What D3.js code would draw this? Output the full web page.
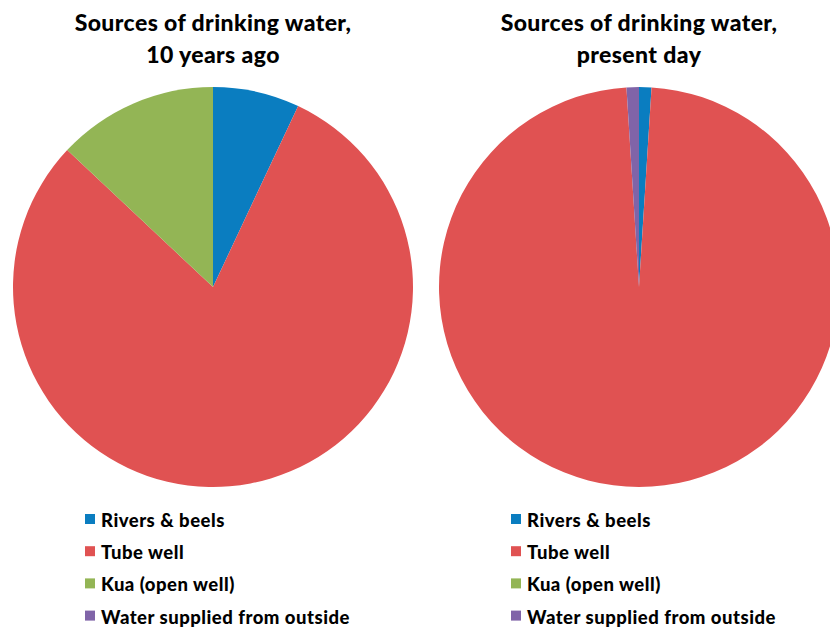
<!DOCTYPE html>
<html>
<head>
<meta charset="utf-8">
<script src="https://cdn.jsdelivr.net/npm/d3@7"></script>
<style>
  body { margin: 0; background: #fff; }
  text { font-family: Lato, "Open Sans", sans-serif; font-weight: 900; fill: #000; }
</style>
</head>
<body>
<svg id="viz"></svg>
<script>
// sources of drinking water, two pies side by side
var width = 830;
var height = 629;

var categories = ["Rivers & beels", "Tube well", "Kua (open well)", "Water supplied from outside"];
var colors = ["#0a7dc0", "#e05252", "#93b555", "#8064a8"];

var tenYearsAgo = [7, 80, 13, 0];
var presentDay = [1, 98, 0, 1];

var titles = [
	["Sources of drinking water,", "10 years ago"],
	["Sources of drinking water,", "present day"]
];

var svg = d3.select("#viz")
	.attr("width", width)
	.attr("height", height)
	.style("display", "block")

var radius = 200;
var centers = [{x: 213, y: 287}, {x: 639, y: 287}];

var pie = d3.pie().sort(null).value(d => d);
var arc = d3.arc().innerRadius(0).outerRadius(radius);

var color = d3.scaleOrdinal().domain(categories).range(colors);

function drawPie(values, i) {
	let c = centers[i];
	let g = svg.append("g")
		.attr("transform", "translate(" + c.x + "," + c.y + ")");

	g.selectAll(".slice")
		.data(pie(values))
		.join("path")
		.attr("class", "slice")
		.attr("d", arc)
		.style("fill", (d, j) => color(categories[j]))

	// title, two lines
	svg.append("g").selectAll(".title")
		.data(titles[i])
		.join("text")
		.attr("class", "title")
		.attr("x", c.x)
		.attr("y", (d, j) => 31 + j * 32)
		.attr("text-anchor", "middle")
		.style("font-size", "23px")
		.style("letter-spacing", "0.4px")
		.text(d => d)

	// legend under the pie
	let leg = svg.append("g")
		.attr("transform", "translate(" + (c.x - 128) + ",527)");

	let rows = leg.selectAll(".row")
		.data(categories)
		.join("g")
		.attr("class", "row")
		.attr("transform", (d, j) => "translate(0," + (j * 32.2) + ")");

	rows.append("rect")
		.attr("x", 0)
		.attr("y", -13)
		.attr("width", 10)
		.attr("height", 10)
		.style("fill", d => color(d))

	rows.append("text")
		.attr("x", 16)
		.attr("y", 0)
		.style("font-size", "18.5px")
		.style("letter-spacing", "0.5px")
		.text(d => d)
}

drawPie(tenYearsAgo, 0);
drawPie(presentDay, 1);
</script>
</body>
</html>
